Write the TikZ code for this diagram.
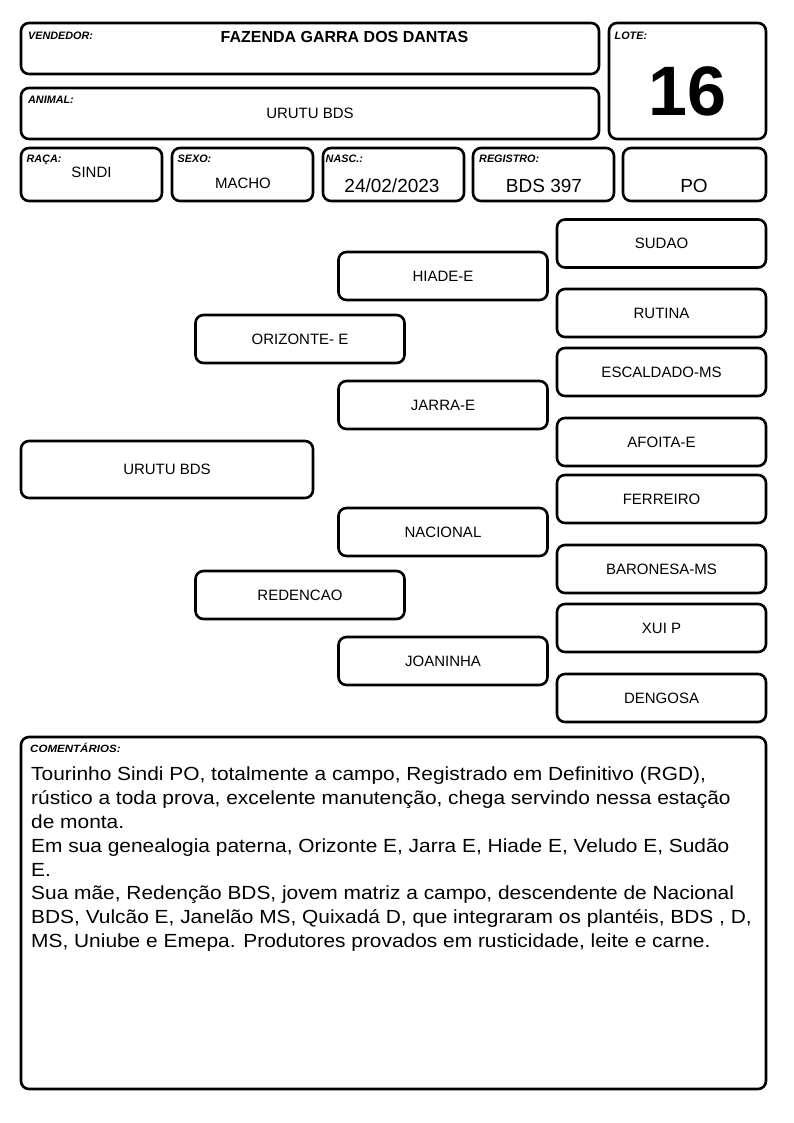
\documentclass[tikz,border=0pt]{standalone}
\usepackage{fontspec}
\setmainfont{Liberation Sans}
\newfontfamily\widefont[FakeStretch=1.1]{Liberation Sans}
\begin{document}
\begin{tikzpicture}[x=1pt,y=-1pt,
  box/.style={draw, line width=2.6pt, rounded corners=8pt, inner sep=0pt},
  lbl/.style={anchor=north west, inner sep=0pt, font=\fontsize{10.8}{12}\selectfont\bfseries\itshape},
  val/.style={inner sep=0pt, font=\fontsize{15}{18}\selectfont},
  big/.style={inner sep=0pt, font=\fontsize{19}{22}\selectfont},
  ped/.style={box, minimum width=209pt, minimum height=48pt, font=\fontsize{15}{18}\selectfont},
  ped3/.style={ped},
]
\useasboundingbox (0,0) rectangle (794,1123);

% header boxes
\node[box, minimum width=578pt, minimum height=51pt] (vend) at (310,48.5) {};
\node[box, minimum width=157pt, minimum height=116pt] (lote) at (687.5,81) {};
\node[box, minimum width=578pt, minimum height=51pt] (anim) at (310,113.5) {};
\node[box, minimum width=141pt, minimum height=53pt] (raca) at (91.5,174.5) {};
\node[box, minimum width=141pt, minimum height=53pt] (sexo) at (242.5,174.5) {};
\node[box, minimum width=141pt, minimum height=53pt] (nasc) at (393.5,174.5) {};
\node[box, minimum width=141pt, minimum height=53pt] (reg) at (543.5,174.5) {};
\node[box, minimum width=143pt, minimum height=53pt] (po) at (694.5,174.5) {};

\node[lbl] (lvend) at (28,31.5) {VENDEDOR:};
\node[inner sep=0pt, font=\fontsize{16}{19}\selectfont\bfseries] (tvend) at (344.5,37) {FAZENDA GARRA DOS DANTAS};
\node[lbl] (llote) at (614.5,31.5) {LOTE:};
\node[inner sep=0pt, font=\fontsize{70}{80}\selectfont\bfseries] (tlote) at (687.5,91.5) {16};
\node[lbl] (lanim) at (28,96) {ANIMAL:};
\node[val] (tanim) at (310,113) {URUTU BDS};
\node[lbl] (lraca) at (26.5,155) {RAÇA:};
\node[val] (traca) at (91.5,172.5) {SINDI};
\node[lbl] (lsexo) at (177.5,155) {SEXO:};
\node[val] (tsexo) at (243,183.5) {MACHO};
\node[lbl] (lnasc) at (325.5,155) {NASC.:};
\node[big] (tnasc) at (392,186) {24/02/2023};
\node[lbl] (lreg) at (479,155) {REGISTRO:};
\node[big] (treg) at (544,186) {BDS 397};
\node[big] (tpo) at (694,186) {PO};

% pedigree
\node[box, minimum width=292pt, minimum height=57pt, font=\fontsize{15}{18}\selectfont] (animal) at (167,469.5) {URUTU BDS};
\node[ped] (pai) at (300,339) {ORIZONTE- E};
\node[ped] (mae) at (300,595) {REDENCAO};
\node[ped] (avp1) at (443,276) {HIADE-E};
\node[ped] (avp2) at (443,405) {JARRA-E};
\node[ped] (avm1) at (443,532) {NACIONAL};
\node[ped] (avm2) at (443,661) {JOANINHA};
\node[ped3] (b1) at (661.5,243.5) {SUDAO};
\node[ped3] (b2) at (661.5,313) {RUTINA};
\node[ped3] (b3) at (661.5,372) {ESCALDADO-MS};
\node[ped3] (b4) at (661.5,442) {AFOITA-E};
\node[ped3] (b5) at (661.5,499) {FERREIRO};
\node[ped3] (b6) at (661.5,569) {BARONESA-MS};
\node[ped3] (b7) at (661.5,628) {XUI P};
\node[ped3] (b8) at (661.5,698) {DENGOSA};

% comments
\node[box, minimum width=745pt, minimum height=352pt] (com) at (393.5,913) {};
\node[lbl, font=\widefont\fontsize{10.5}{12}\selectfont\bfseries\itshape] (lcom) at (30,743.5) {COMENTÁRIOS:};
\node[anchor=north west, inner sep=0pt, align=left, font=\widefont\fontsize{19}{23.8}\selectfont] (tcom) at (31,767) {Tourinho Sindi PO, totalmente a campo, Registrado em Definitivo (RGD),\\
rústico a toda prova, excelente manutenção, chega servindo nessa estação\\
de monta.\\
Em sua genealogia paterna, Orizonte E, Jarra E, Hiade E, Veludo E, Sudão\\
E.\\
Sua mãe, Redenção BDS, jovem matriz a campo, descendente de Nacional\\
BDS, Vulcão E, Janelão MS, Quixadá D, que integraram os plantéis, BDS , D,\\
MS, Uniube e Emepa. Produtores provados em rusticidade, leite e carne.};
\end{tikzpicture}
\end{document}
